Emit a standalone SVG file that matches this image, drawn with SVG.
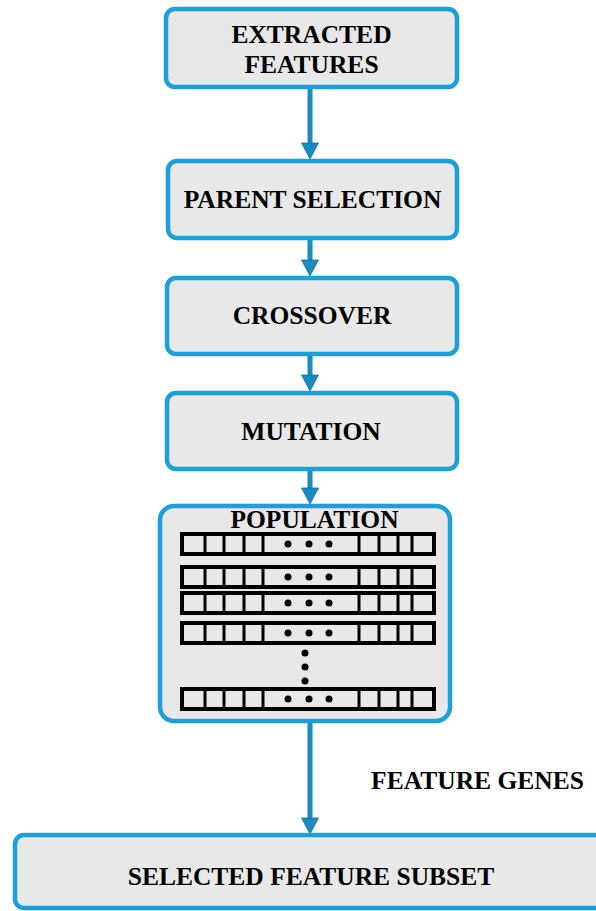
<svg xmlns="http://www.w3.org/2000/svg" width="596" height="911" viewBox="0 0 596 911">
<defs>
<style>
.box{fill:#e8e8e8;stroke:#1ca0da;stroke-width:4.5}
.lbl{font-family:"Liberation Serif","Times New Roman",serif;font-weight:bold;font-size:25.5px;fill:#000;text-anchor:middle}
.shaft{stroke:#1a8cc2;stroke-width:5;fill:none}
.head{fill:#1a8cc2;stroke:#12729f;stroke-width:0.8}
.row{fill:#e8e8e8;stroke:#000;stroke-width:4}
.div{stroke:#000;stroke-width:3}
.dot{fill:#000}
</style>
<g id="chrom">
<rect class="row" x="182" y="0" width="252" height="20"/>
<line class="div" x1="205" y1="0" x2="205" y2="20"/>
<line class="div" x1="224" y1="0" x2="224" y2="20"/>
<line class="div" x1="244" y1="0" x2="244" y2="20"/>
<line class="div" x1="263" y1="0" x2="263" y2="20"/>
<line class="div" x1="359" y1="0" x2="359" y2="20"/>
<line class="div" x1="379" y1="0" x2="379" y2="20"/>
<line class="div" x1="398" y1="0" x2="398" y2="20"/>
<line class="div" x1="412" y1="0" x2="412" y2="20"/>
<circle class="dot" cx="288" cy="10" r="3.5"/>
<circle class="dot" cx="309" cy="10" r="3.5"/>
<circle class="dot" cx="329" cy="10" r="3.5"/>
</g>
</defs>

<g id="connectors">
<line class="shaft" x1="310" y1="88" x2="310" y2="146"/>
<path class="head" d="M301.5,143 L318.5,143 L310,159 Z"/>
<line class="shaft" x1="310" y1="238" x2="310" y2="263"/>
<path class="head" d="M301.5,260 L318.5,260 L310,276 Z"/>
<line class="shaft" x1="310" y1="355" x2="310" y2="378"/>
<path class="head" d="M301.5,375 L318.5,375 L310,391 Z"/>
<line class="shaft" x1="310" y1="470" x2="310" y2="491"/>
<path class="head" d="M301.5,488 L318.5,488 L310,504 Z"/>
<line class="shaft" x1="310" y1="722" x2="310" y2="822"/>
<path class="head" d="M301.5,818 L318.5,818 L310,834 Z"/>
</g>

<g id="extracted-features">
<rect class="box" x="166" y="9" width="291" height="78" rx="9"/>
<text class="lbl" x="311.5" y="43">EXTRACTED</text>
<text class="lbl" x="311.5" y="73">FEATURES</text>
</g>

<g id="parent-selection">
<rect class="box" x="168" y="161" width="289" height="77" rx="9"/>
<text class="lbl" x="312.5" y="208">PARENT SELECTION</text>
</g>

<g id="crossover">
<rect class="box" x="167" y="278" width="290" height="76" rx="9"/>
<text class="lbl" x="312" y="324">CROSSOVER</text>
</g>

<g id="mutation">
<rect class="box" x="167" y="393" width="290" height="76" rx="9"/>
<text class="lbl" x="311" y="440">MUTATION</text>
</g>

<g id="population">
<rect class="box" x="160" y="506" width="290" height="215" rx="14"/>
<text class="lbl" x="314.5" y="528">POPULATION</text>
<use href="#chrom" y="534"/>
<use href="#chrom" y="567"/>
<use href="#chrom" y="593"/>
<use href="#chrom" y="623"/>
<circle class="dot" cx="305" cy="653" r="3.5"/>
<circle class="dot" cx="305" cy="667" r="3.5"/>
<circle class="dot" cx="305" cy="681" r="3.5"/>
<use href="#chrom" y="689"/>
</g>

<g id="feature-genes-label">
<text class="lbl" x="477.5" y="789">FEATURE GENES</text>
</g>

<g id="selected-feature-subset">
<rect class="box" x="15" y="835" width="600" height="73" rx="9"/>
<text class="lbl" x="311" y="885">SELECTED FEATURE SUBSET</text>
</g>
</svg>
